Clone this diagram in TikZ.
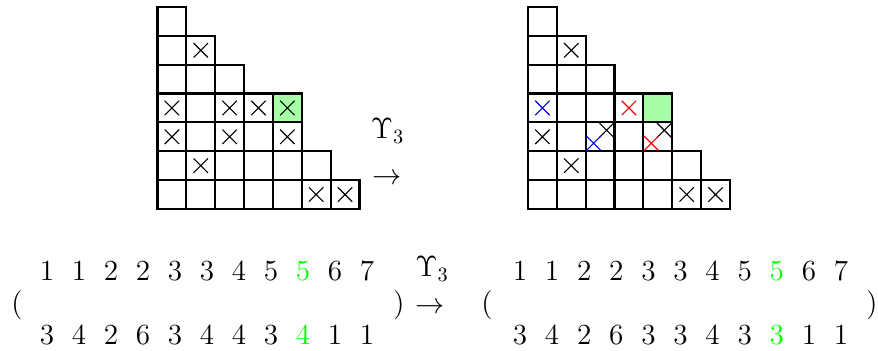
\documentclass[tikz,border=0pt]{standalone}
\begin{document}
\begin{tikzpicture}[x=0.017331cm,y=-0.017331cm]
\useasboundingbox (0,0) rectangle (878,351);
\def\cellw{28.85}
\tikzset{
  gridcell/.style={draw=black,line width=1.05pt},
  hl/.style={fill=green!35},
  crossmark/.pic={\draw[line width=0.55pt] (-7.2,-7.2)--(7.2,7.2) (-7.2,7.2)--(7.2,-7.2);},
  lbl/.style={inner sep=0pt,anchor=base,font=\fontsize{14.4}{17}\selectfont},
}
\newcommand\drawshape[1]{%
  \foreach \rr/\nn in {1/1,2/2,3/3,4/5,5/5,6/6,7/7} {
    \foreach \ii in {1,...,\nn} {
      \draw[gridcell] ({#1+(\ii-1)*\cellw},{7+(\rr-1)*\cellw}) rectangle ++(\cellw,\cellw);
    }
  }}
\newcommand\xcell[6]{\pic[#1] at ({#2+(#3-0.5)*\cellw+#5},{7+(#4-0.5)*\cellw+#6}) {crossmark};}

% left grid
\fill[hl] ({157.5+4*\cellw},{7+3*\cellw}) rectangle ++(\cellw,\cellw);
\drawshape{157.5}
\xcell{black}{157.5}{2}{2}{0}{0}
\xcell{black}{157.5}{1}{4}{0}{0}
\xcell{black}{157.5}{3}{4}{0}{0}
\xcell{black}{157.5}{4}{4}{0}{0}
\xcell{black}{157.5}{5}{4}{0}{0}
\xcell{black}{157.5}{1}{5}{0}{0}
\xcell{black}{157.5}{3}{5}{0}{0}
\xcell{black}{157.5}{5}{5}{0}{0}
\xcell{black}{157.5}{2}{6}{0}{0}
\xcell{black}{157.5}{6}{7}{0}{0}
\xcell{black}{157.5}{7}{7}{0}{0}

% right grid
\fill[hl] ({528+4*\cellw},{7+3*\cellw}) rectangle ++(\cellw,\cellw);
\drawshape{528}
\xcell{black}{528}{2}{2}{0}{0}
\xcell{blue}{528}{1}{4}{0}{0}
\xcell{red}{528}{4}{4}{0}{0}
\xcell{black}{528}{1}{5}{0}{0}
\xcell{black}{528}{3}{5}{6.5}{-6.5}
\xcell{blue}{528}{3}{5}{-6.5}{6.5}
\xcell{black}{528}{5}{5}{6.5}{-6.5}
\xcell{red}{528}{5}{5}{-6.5}{6.5}
\xcell{black}{528}{2}{6}{0}{0}
\xcell{black}{528}{6}{7}{0}{0}
\xcell{black}{528}{7}{7}{0}{0}

% top map label
\node[lbl] (u1) at (387.5,139) {$\Upsilon_3$};
\node[lbl] (a1) at (387.5,185) {$\to$};

% bottom arrays
\node[lbl] (lp1) at (17,313) {(};
\node[lbl] (rp1) at (399,313) {)};
\node[lbl] (u2) at (432,277) {$\Upsilon_3$};
\node[lbl] (a2) at (430,314) {$\to$};
\node[lbl] (lp2) at (487,313) {(};
\node[lbl] (rp2) at (872,313) {)};

\foreach \v/\cl [count=\ii] in {1/black,1/black,2/black,2/black,3/black,3/black,4/black,5/black,5/green,6/black,7/black} {
  \node[lbl,text=\cl] (lt\ii) at ({47+(\ii-1)*32},281) {$\v$};
  \node[lbl,text=\cl] (rt\ii) at ({520+(\ii-1)*32.1},281) {$\v$};
}
\foreach \v/\cl [count=\ii] in {3/black,4/black,2/black,6/black,3/black,4/black,4/black,3/black,4/green,1/black,1/black} {
  \node[lbl,text=\cl] (lb\ii) at ({47+(\ii-1)*32},345) {$\v$};
}
\foreach \v/\cl [count=\ii] in {3/black,4/black,2/black,6/black,3/black,3/black,4/black,3/black,3/green,1/black,1/black} {
  \node[lbl,text=\cl] (rb\ii) at ({520+(\ii-1)*32.1},345) {$\v$};
}
\end{tikzpicture}
\end{document}
